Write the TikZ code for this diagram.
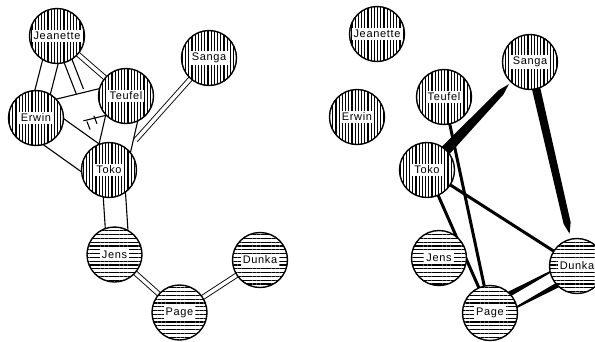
\documentclass[tikz,border=0pt]{standalone}
\usepackage{fontspec}
\setmainfont{Liberation Sans}[LetterSpace=6]
\usetikzlibrary{patterns.meta,calc}
\begin{document}
\begin{tikzpicture}[x=1pt,y=-1pt,
  person/.style={circle,minimum size=55pt,inner sep=0pt,draw,line width=1.4pt,fill=white},
  vhatch/.style={person,postaction={pattern={Lines[angle=90,distance=3.2pt,line width=1.1pt]}}},
  hhatch/.style={person,postaction={pattern={Lines[angle=0,distance=3.8pt,line width=1.1pt]}}},
  lab/.style={fill=white,inner xsep=2pt,inner ysep=1.8pt,font=\fontsize{11}{12}\selectfont},
  rel/.style={line width=1.1pt},
  dbl/.style={double,double distance=3.5pt,line width=0.9pt},
  strong/.style={line width=3pt},
  wedge/.style={fill=black}]
\useasboundingbox (0,0) rectangle (595,341);
% ---------- left graph: positions ----------
\coordinate (jeaL) at (57,36);
\coordinate (sanL) at (209,58);
\coordinate (teuL) at (126,96);
\coordinate (erwL) at (36,118);
\coordinate (tokL) at (109,170);
\coordinate (jenL) at (114.5,254.5);
\coordinate (pagL) at (179.5,312.5);
\coordinate (dunL) at (260,260);
% ---------- right graph: positions ----------
\coordinate (jeaR) at (377,34);
\coordinate (sanR) at (530,62);
\coordinate (teuR) at (444,97);
\coordinate (erwR) at (357,117);
\coordinate (tokR) at (427,170);
\coordinate (jenR) at (439,258);
\coordinate (pagR) at (490,313);
\coordinate (dunR) at (577,266);
% ---------- left edges ----------
\draw[rel] ($(jeaL)!8pt!90:(erwL)$) -- ($(erwL)!8pt!-90:(jeaL)$);
\draw[rel] ($(jeaL)!8pt!-90:(erwL)$) -- ($(erwL)!8pt!90:(jeaL)$);
\draw[dbl] (jeaL) -- (teuL);
\coordinate (jt1a) at ($(jeaL)!3pt!-90:(tokL)$);
\coordinate (jt1b) at ($(tokL)!3pt!90:(jeaL)$);
\coordinate (jt2a) at ($(jeaL)!5.5pt!90:(tokL)$);
\coordinate (jt2b) at ($(tokL)!5.5pt!-90:(jeaL)$);
\draw[rel] (jt1a) -- ($(jt1a)!0.425!(jt1b)$);
\draw[rel] ($(jt1a)!0.63!(jt1b)$) -- ($(jt1a)!0.69!(jt1b)$);
\draw[rel] (jt2a) -- ($(jt2a)!0.41!(jt2b)$);
\draw[rel] ($(jt2a)!0.61!(jt2b)$) -- ($(jt2a)!0.67!(jt2b)$);
\draw[rel] ($(erwL)!13.5pt!90:(teuL)$) -- ($(teuL)!13.5pt!-90:(erwL)$);
\coordinate (et2a) at ($(erwL)!14pt!-90:(teuL)$);
\coordinate (et2b) at ($(teuL)!14pt!90:(erwL)$);
\draw[rel] ($(et2a)!0.49!(et2b)$) -- (et2b);
\draw[rel] ($(erwL)!15.5pt!90:(tokL)$) -- ($(tokL)!15.5pt!-90:(erwL)$);
\draw[rel] ($(erwL)!17.5pt!-90:(tokL)$) -- ($(tokL)!17.5pt!90:(erwL)$);
\draw[rel] ($(teuL)!17pt!90:(tokL)$) -- ($(tokL)!17pt!-90:(teuL)$);
\draw[rel] ($(teuL)!15.5pt!-90:(tokL)$) -- ($(tokL)!15.5pt!90:(teuL)$);
\draw[dbl] (sanL) -- ($(tokL)!40pt!(sanL)$);
\draw[rel] ($(tokL)!15pt!90:(jenL)$) -- ($(jenL)!15pt!-90:(tokL)$);
\draw[rel] ($(tokL)!7.5pt!-90:(jenL)$) -- ($(jenL)!7.5pt!90:(tokL)$);
\draw[dbl] (jenL) -- (pagL);
\draw[dbl] (pagL) -- (dunL);
% ---------- right edges ----------
\draw[strong] (teuR) -- (pagR);
\draw[strong] (tokR) -- (pagR);
\draw[strong] (tokR) -- (dunR);
\coordinate (ts1) at ($(tokR)!0.72!(sanR)$);
\coordinate (ts2) at ($(tokR)!0.795!(sanR)$);
\fill[wedge] ($(tokR)!6pt!90:(sanR)$) -- ($(ts1)!3.2pt!90:(sanR)$) -- (ts2)
  -- ($(ts1)!3.2pt!-90:(sanR)$) -- ($(tokR)!6pt!-90:(sanR)$) -- cycle;
\coordinate (sd1) at ($(sanR)!0.79!(dunR)$);
\coordinate (sd2) at ($(sanR)!0.842!(dunR)$);
\fill[wedge] ($(sanR)!4.3pt!90:(dunR)$) -- ($(sd1)!3.6pt!90:(dunR)$) -- (sd2)
  -- ($(sd1)!3.6pt!-90:(dunR)$) -- ($(sanR)!4.3pt!-90:(dunR)$) -- cycle;
\fill[wedge] ($(pagR)!11pt!90:(dunR)$) -- ($(pagR)!4pt!90:(dunR)$)
  -- ($(dunR)!7.5pt!-90:(pagR)$) -- cycle;
\fill[wedge] ($(pagR)!7.5pt!-90:(dunR)$) -- ($(dunR)!11pt!90:(pagR)$)
  -- ($(dunR)!4pt!90:(pagR)$) -- cycle;
% ---------- left nodes ----------
\node[vhatch,label={[lab]center:Jeanette}] (JeaL) at (jeaL) {};
\node[vhatch,label={[lab]center:Sanga}] (SanL) at (sanL) {};
\node[vhatch,label={[lab]center:Teufel}] (TeuL) at (teuL) {};
\node[vhatch,label={[lab]center:Erwin}] (ErwL) at (erwL) {};
\node[vhatch,label={[lab]center:Toko}] (TokL) at (tokL) {};
\node[hhatch,label={[lab]center:Jens}] (JenL) at (jenL) {};
\node[hhatch,label={[lab]center:Page}] (PagL) at (pagL) {};
\node[hhatch,label={[lab]center:Dunka}] (DunL) at (dunL) {};
% ---------- right nodes ----------
\node[vhatch,label={[lab]center:Jeanette}] (JeaR) at (jeaR) {};
\node[vhatch,label={[lab]center:Sanga}] (SanR) at (sanR) {};
\node[vhatch,label={[lab]center:Teufel}] (TeuR) at (teuR) {};
\node[vhatch,label={[lab]center:Erwin}] (ErwR) at (erwR) {};
\node[vhatch,label={[lab]center:Toko}] (TokR) at (tokR) {};
\node[hhatch,label={[lab]center:Jens}] (JenR) at (jenR) {};
\node[hhatch,label={[lab]center:Page}] (PagR) at (pagR) {};
\node[hhatch,label={[lab]center:Dunka}] (DunR) at (dunR) {};
\end{tikzpicture}
\end{document}
